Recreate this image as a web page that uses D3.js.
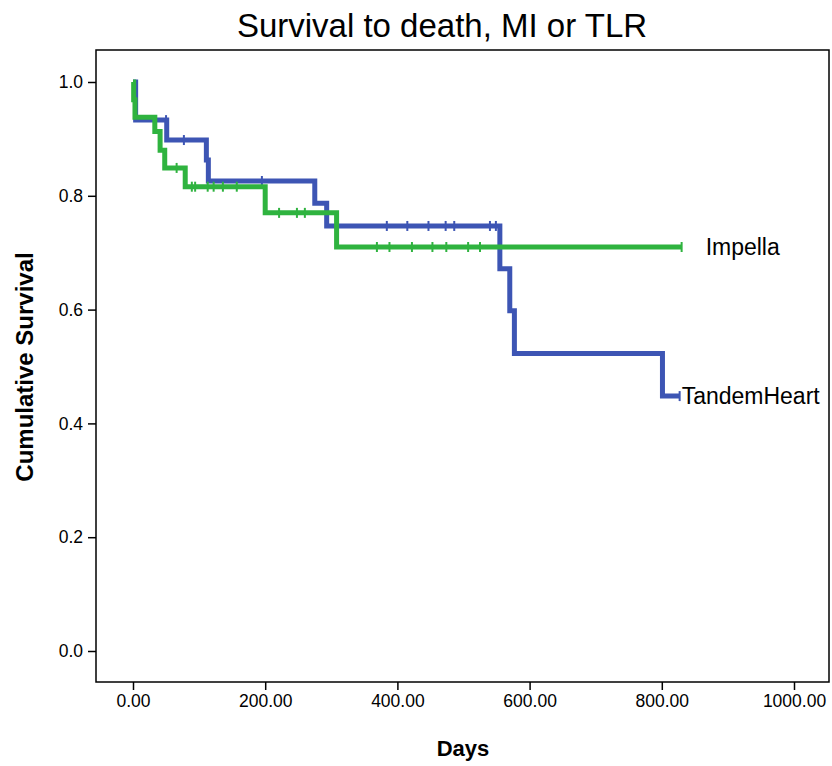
<!DOCTYPE html>
<html>
<head>
<meta charset="utf-8">
<script src="https://cdn.jsdelivr.net/npm/d3@7"></script>
<style>
  html, body { margin: 0; padding: 0; background: #ffffff; }
  svg { display: block; }
  text { font-family: "Liberation Sans", Arial, sans-serif; fill: #000; }
</style>
</head>
<body>
<svg id="chart" width="832" height="766"></svg>
<script>
// ---- data ----
const title = "Survival to death, MI or TLR";
const xLabel = "Days";
const yLabel = "Cumulative Survival";
const xTicks = [0, 200, 400, 600, 800, 1000];
const yTicks = [0.0, 0.2, 0.4, 0.6, 0.8, 1.0];

// TandemHeart (blue): event times (days) and survival after each step
const tandemTimes = [0, 4, 51, 111, 114, 275, 293, 555, 570, 577, 801];
const tandemSurv  = [1.0, 0.933, 0.898, 0.863, 0.826, 0.787, 0.747, 0.672, 0.598, 0.523, 0.448];
const tandemEnd = 827;
const tandemCensored = [50, 77, 195, 384, 415, 447, 473, 486, 540, 549, 827];

// Impella (green)
const impellaTimes = [0, 1, 3, 33, 41, 48, 79, 200, 308];
const impellaSurv  = [1.0, 0.969, 0.938, 0.913, 0.880, 0.849, 0.816, 0.770, 0.710];
const impellaEnd = 830;
const impellaCensored = [66, 89, 94, 113, 122, 136, 157, 221, 248, 260, 369, 388, 422, 453, 474, 507, 525, 830];

const seriesNames = ["TandemHeart", "Impella"];
const seriesColors = ["#3d55b4", "#2fb33f"];

// ---- layout ----
const svg = d3.select("#chart");
const frame = { left: 96, right: 829, top: 50, bottom: 682 };
const x = d3.scaleLinear().domain([0, 1000]).range([133, 794]);
const y = d3.scaleLinear().domain([0, 1]).range([651, 82]);

// title
svg.append("text")
  .attr("x", 442).attr("y", 37)
  .attr("text-anchor", "middle")
  .style("font-size", "33px")
  .text(title);

// frame
svg.append("rect")
  .attr("x", frame.left).attr("y", frame.top)
  .attr("width", frame.right - frame.left)
  .attr("height", frame.bottom - frame.top)
  .attr("fill", "none").attr("stroke", "#000").attr("stroke-width", 1.5);

// axes
const xAxis = d3.axisBottom(x).tickValues(xTicks).tickFormat(d3.format(".2f")).tickSize(8).tickPadding(5);
const yAxis = d3.axisLeft(y).tickValues(yTicks).tickFormat(d3.format(".1f")).tickSize(8).tickPadding(5);

const gx = svg.append("g").attr("transform", `translate(0,${frame.bottom})`).call(xAxis);
gx.select(".domain").remove();
gx.selectAll(".tick line").attr("stroke", "#000").attr("stroke-width", 1.5);
gx.selectAll(".tick text").style("font-size", "17.5px").attr("fill", "#111");

const gy = svg.append("g").attr("transform", `translate(${frame.left},0)`).call(yAxis);
gy.select(".domain").remove();
gy.selectAll(".tick line").attr("stroke", "#000").attr("stroke-width", 1.5);
gy.selectAll(".tick text").style("font-size", "17.5px").attr("fill", "#111");

// axis labels
svg.append("text")
  .attr("x", 463).attr("y", 756)
  .attr("text-anchor", "middle")
  .style("font-size", "22px").style("font-weight", "bold")
  .text(xLabel);

svg.append("text")
  .attr("transform", "translate(33,367) rotate(-90)")
  .attr("text-anchor", "middle")
  .style("font-size", "24px").style("font-weight", "bold")
  .text(yLabel);

// curves
function stepPoints(times, surv, end) {
  const pts = times.map((t, i) => [t, surv[i]]);
  pts.push([end, surv[surv.length - 1]]);
  return pts;
}
function survAt(times, surv, t) {
  let s = surv[0];
  for (let i = 0; i < times.length; i++) if (times[i] <= t) s = surv[i];
  return s;
}

const line = d3.line().x(d => x(d[0])).y(d => y(d[1])).curve(d3.curveStepAfter);

const series = [
  { name: seriesNames[0], color: seriesColors[0], times: tandemTimes, surv: tandemSurv, end: tandemEnd, cens: tandemCensored },
  { name: seriesNames[1], color: seriesColors[1], times: impellaTimes, surv: impellaSurv, end: impellaEnd, cens: impellaCensored }
];

series.forEach(s => {
  const g = svg.append("g");
  g.append("path")
    .datum(stepPoints(s.times, s.surv, s.end))
    .attr("d", line)
    .attr("fill", "none")
    .attr("stroke", s.color)
    .attr("stroke-width", 5)
    .attr("stroke-linejoin", "miter");
  g.selectAll("line.cens")
    .data(s.cens)
    .join("line")
    .attr("class", "cens")
    .attr("x1", d => x(d)).attr("x2", d => x(d))
    .attr("y1", d => y(survAt(s.times, s.surv, d)) - 5)
    .attr("y2", d => y(survAt(s.times, s.surv, d)) + 5)
    .attr("stroke", s.color)
    .attr("stroke-width", 2);
});

// series labels at curve ends
series.forEach(s => {
  const lastS = s.surv[s.surv.length - 1];
  svg.append("text")
    .attr("x", s.name === "Impella" ? x(s.end) + 24 : x(s.end) + 2)
    .attr("y", y(lastS) + 8)
    .style("font-size", "23px")
    .text(s.name);
});
</script>
</body>
</html>
